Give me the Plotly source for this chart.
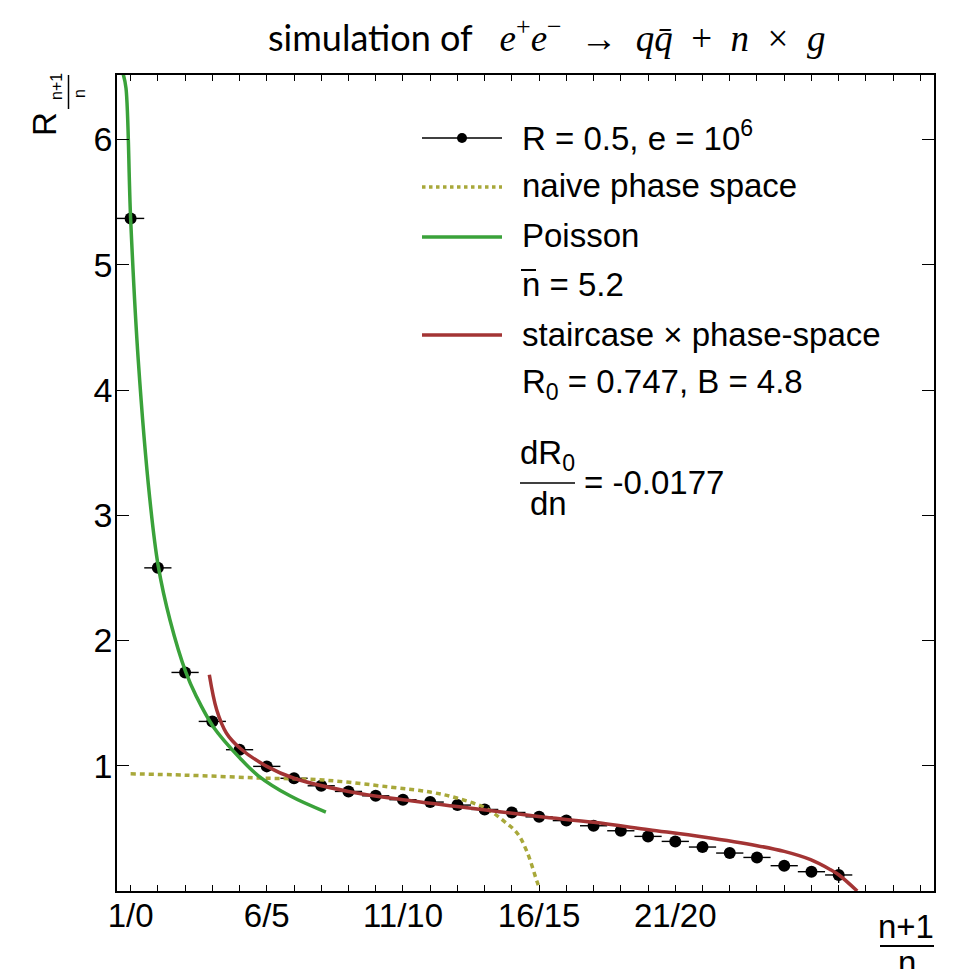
import plotly.graph_objects as go

# ---------------- data ----------------
n_vals = list(range(0, 27))
R_vals = [5.37, 2.58, 1.745, 1.354, 1.128, 0.995, 0.90, 0.84, 0.795, 0.76,
          0.729, 0.71, 0.686, 0.651, 0.627, 0.592, 0.562, 0.521, 0.481, 0.436,
          0.396, 0.351, 0.303, 0.268, 0.202, 0.154, 0.128]
R_xerr = [0.5] * len(n_vals)
R_yerr = [0.0] * 20 + [0.01, 0.01, 0.012, 0.015, 0.02, 0.03, 0.064]

poisson_x = [-0.27, -0.17, 0.0, 0.28, 0.70, 1.01, 1.45, 2.03, 2.4, 3.04, 4.02, 4.69, 5.85, 7.17]
poisson_y = [6.52, 6.41, 5.37, 4.24, 3.14, 2.60, 2.16, 1.745, 1.56, 1.31, 1.06, 0.92, 0.76, 0.63]

naive_x = [0.0, 2.0, 4.63, 7.08, 9.53, 11.0, 11.98, 13.03, 13.64, 14.19, 14.55, 14.92, 15.0]
naive_y = [0.936, 0.925, 0.903, 0.886, 0.830, 0.790, 0.742, 0.662, 0.569, 0.463, 0.316, 0.077, 0.03]

stair_x = [2.89, 3.16, 3.52, 4.02, 5.0, 6.0, 8.0, 10.0, 12.96, 14.98, 17.0, 19.03,
           21.03, 23.0, 24.0, 24.97, 25.7, 26.0, 26.68]
stair_y = [1.726, 1.447, 1.26, 1.14, 0.995, 0.90, 0.795, 0.729, 0.649, 0.595, 0.548,
           0.489, 0.431, 0.362, 0.316, 0.25, 0.17, 0.13, 0.0]

tick_positions = [0, 5, 10, 15, 20]
tick_labels = ["1/0", "6/5", "11/10", "16/15", "21/20"]
y_ticks = [1, 2, 3, 4, 5, 6]

# ---------------- styling ----------------
W, H = 960, 969
ML, MR, MT, MB = 117, 26, 75, 78
PW, PH = W - ML - MR, H - MT - MB
FONT = "Liberation Sans, Arial, sans-serif"
GREEN = "#3aa23a"
RED = "#a33434"
OLIVE = "#a8a83a"


def px(x):
    return (x - ML) / PW


def py(y):
    return (H - MB - y) / PH


fig = go.Figure()

fig.add_trace(go.Scatter(
    x=n_vals, y=R_vals, mode="markers",
    marker=dict(size=12, color="black"),
    error_x=dict(type="data", array=R_xerr, color="black", thickness=1.4, width=0),
    error_y=dict(type="data", array=R_yerr, color="black", thickness=1.4, width=0),
    showlegend=False))

fig.add_trace(go.Scatter(x=naive_x, y=naive_y, mode="lines", line_shape="spline",
                         line=dict(color=OLIVE, width=3.5, dash="5px,4px"), showlegend=False))
fig.add_trace(go.Scatter(x=poisson_x, y=poisson_y, mode="lines", line_shape="spline",
                         line=dict(color=GREEN, width=3.5), showlegend=False))
fig.add_trace(go.Scatter(x=stair_x, y=stair_y, mode="lines", line_shape="spline",
                         line=dict(color=RED, width=3.5), showlegend=False))

all_ticks = list(range(0, 30))
all_text = [tick_labels[tick_positions.index(t)] if t in tick_positions else "" for t in all_ticks]

fig.update_xaxes(range=[-0.5, 29.5], tickmode="array", tickvals=all_ticks, ticktext=all_text,
                 ticks="inside", ticklen=6, tickwidth=1.3, tickcolor="black",
                 showline=True, linecolor="black", linewidth=1.6, mirror="ticks",
                 showgrid=False, zeroline=False, ticklabelstandoff=-5,
                 tickfont=dict(family=FONT, size=33, color="black"))
fig.update_yaxes(range=[0, 6.515], tickmode="array", tickvals=y_ticks,
                 ticktext=[str(v) for v in y_ticks],
                 ticks="inside", ticklen=12, tickwidth=1.3, tickcolor="black",
                 showline=True, linecolor="black", linewidth=1.6, mirror="ticks",
                 showgrid=False, zeroline=False, ticklabelstandoff=-4,
                 tickfont=dict(family=FONT, size=34, color="black"))

ann = []
shapes = []


def text(x, y, t, size=33, xanchor="left", yanchor="middle", angle=0, family=FONT):
    ann.append(dict(x=px(x), y=py(y), xref="paper", yref="paper", text=t, showarrow=False,
                    xanchor=xanchor, yanchor=yanchor, textangle=angle,
                    font=dict(family=family, size=size, color="black")))


def hline(x0, x1, y, color, width, dash="solid"):
    shapes.append(dict(type="line", xref="paper", yref="paper", x0=px(x0), x1=px(x1),
                       y0=py(y), y1=py(y), line=dict(color=color, width=width, dash=dash)))


# title
ann.append(dict(x=px(266), y=py(36), xref="paper", yref="paper", showarrow=False,
                xanchor="left", yanchor="middle",
                text='simulation of   <span style="font-family:Liberation Serif;font-size:37px">'
                     '<i>e</i><sup>+</sup><i>e</i><sup>−</sup>\u2002→\u2002<i>q</i><i>q̄</i>\u2002+\u2002'
                     '<i>n</i>\u2002×\u2002<i>g</i></span>',
                font=dict(family="Lato, sans-serif", size=36, color="black")))

# legend
hline(422, 502, 138, "black", 1.4)
shapes.append(dict(type="circle", xref="paper", yref="paper",
                   x0=px(457), x1=px(467), y0=py(133), y1=py(143),
                   fillcolor="black", line=dict(color="black", width=0)))
text(520, 136, "R = 0.5, e = 10<sup>6</sup>")
hline(422, 502, 187, OLIVE, 3.5, "dot")
text(520, 186, "naive phase space")
hline(422, 502, 237, GREEN, 3.5)
text(520, 236, "Poisson")
text(520, 284, "n = 5.2")
hline(521, 536, 270, "black", 2)
hline(422, 502, 335, RED, 3.5)
text(520, 334, "staircase × phase-space")
text(520, 384, "R<sub>0</sub> = 0.747, B = 4.8")
text(547, 455, "dR<sub>0</sub>", xanchor="center")
hline(520, 575, 483, "black", 1.6)
text(548, 503, "dn", xanchor="center")
text(582, 482, "= -0.0177")

# x-axis title (fraction)
text(906, 926, "n+1", xanchor="center")
hline(880, 934, 946, "black", 1.8)
text(907, 963, "n", xanchor="center")

# y-axis title
text(44, 124, "R", angle=-90, xanchor="center")
text(57, 87, "n+1", size=16, angle=-90, xanchor="center")
shapes.append(dict(type="line", xref="paper", yref="paper", x0=px(68.5), x1=px(68.5),
                   y0=py(75), y1=py(109), line=dict(color="black", width=1.5)))
text(79, 94, "n", size=16, angle=-90, xanchor="center")

fig.update_layout(width=W, height=H, plot_bgcolor="white", paper_bgcolor="white",
                  margin=dict(l=ML, r=MR, t=MT, b=MB, autoexpand=False),
                  annotations=ann, shapes=shapes, showlegend=False)

fig.write_html("out.html", config={"displayModeBar": False},
               post_script="document.body.style.margin='0px';")
